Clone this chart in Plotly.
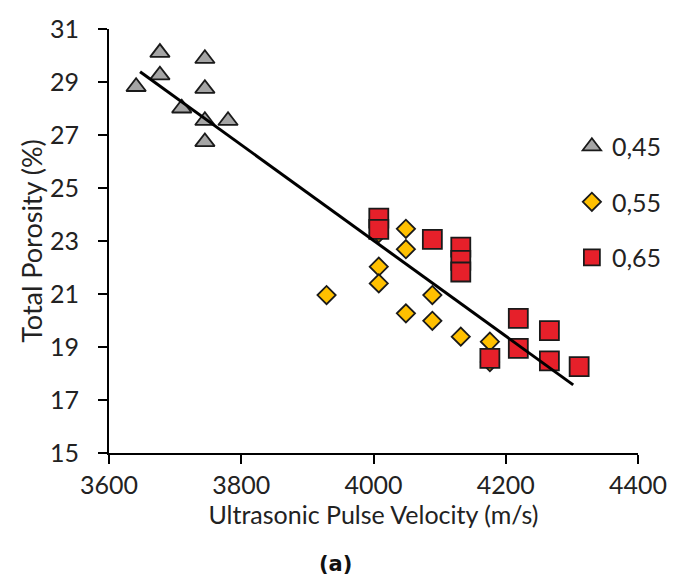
import plotly.graph_objects as go

# ---- data ----
tri_x = [3641, 3677, 3677, 3710, 3745, 3745, 3745, 3745, 3780]
tri_y = [28.82, 30.11, 29.26, 28.01, 29.88, 28.75, 27.54, 26.74, 27.54]

dia_x = [3929, 4008, 4049, 4049, 4008, 4008, 4089, 4049, 4089, 4132, 4176, 4176]
dia_y = [20.96, 23.30, 23.46, 22.69, 22.03, 21.40, 20.96, 20.27, 19.99, 19.39, 19.20, 18.43]

sq_x = [4008, 4008, 4089, 4132, 4132, 4132, 4176, 4219, 4219, 4266, 4266, 4311]
sq_y = [23.86, 23.44, 23.06, 22.77, 22.27, 21.83, 18.57, 20.08, 18.95, 19.62, 18.48, 18.26]

trend_x = [3647, 4302]
trend_y = [29.39, 17.57]

names = ["0,45", "0,55", "0,65"]
x_ticks = [3600, 3800, 4000, 4200, 4400]
y_ticks = [15, 17, 19, 21, 23, 25, 27, 29, 31]

FONT = "Lato"
TXT = "#222222"

fig = go.Figure()
fig.add_trace(go.Scatter(
    x=tri_x, y=tri_y, mode="markers", name=names[0], legendgroup="a",
    marker=dict(symbol="triangle-up", size=17, color="#A5A5A5",
                line=dict(color="#1a1a1a", width=1.8))))
fig.add_trace(go.Scatter(
    x=dia_x, y=dia_y, mode="markers", name=names[1], legendgroup="b",
    marker=dict(symbol="diamond", size=14, color="#FFC000",
                line=dict(color="#1a1a1a", width=1.8))))
fig.add_trace(go.Scatter(
    x=sq_x, y=sq_y, mode="markers", name=names[2], legendgroup="c",
    marker=dict(symbol="square", size=19, color="#E6202A",
                line=dict(color="#1a1a1a", width=1.8))))
fig.add_trace(go.Scatter(
    x=trend_x, y=trend_y, mode="lines", showlegend=False,
    line=dict(color="black", width=3), hoverinfo="skip"))

fig.update_layout(
    width=673, height=583,
    margin=dict(l=109, r=35, t=29, b=130, autoexpand=False),
    paper_bgcolor="white", plot_bgcolor="white",
    font=dict(family=FONT, size=24, color=TXT),
    legend=dict(x=0.875, y=0.777, xanchor="left", yanchor="top",
                font=dict(family=FONT, size=25, color=TXT),
                tracegroupgap=20, bgcolor="rgba(0,0,0,0)"),
    xaxis=dict(range=[3600, 4400], tickvals=x_ticks,
               ticktext=[str(v) for v in x_ticks],
               showgrid=False, zeroline=False, showline=True,
               linecolor="black", linewidth=2, ticks="outside",
               ticklen=9, tickwidth=2, tickcolor="black",
               tickfont=dict(size=25),
               title=dict(text="Ultrasonic Pulse Velocity (m/s)",
                          font=dict(size=25), standoff=2)),
    yaxis=dict(range=[15, 31], tickvals=y_ticks,
               ticktext=[str(v) for v in y_ticks],
               showgrid=False, zeroline=False, showline=True,
               linecolor="black", linewidth=2, ticks="outside",
               ticklen=9, tickwidth=2, tickcolor="black",
               tickfont=dict(size=25), ticklabelstandoff=14,
               title=dict(text="Total Porosity (%)",
                          font=dict(size=27), standoff=0)),
    annotations=[dict(text="<b>(a)</b>", xref="paper", yref="paper",
                      x=0.429, y=-0.295, showarrow=False,
                      font=dict(family="DejaVu Sans", size=21, color="#111"))],
)

fig.write_html("out.html")
